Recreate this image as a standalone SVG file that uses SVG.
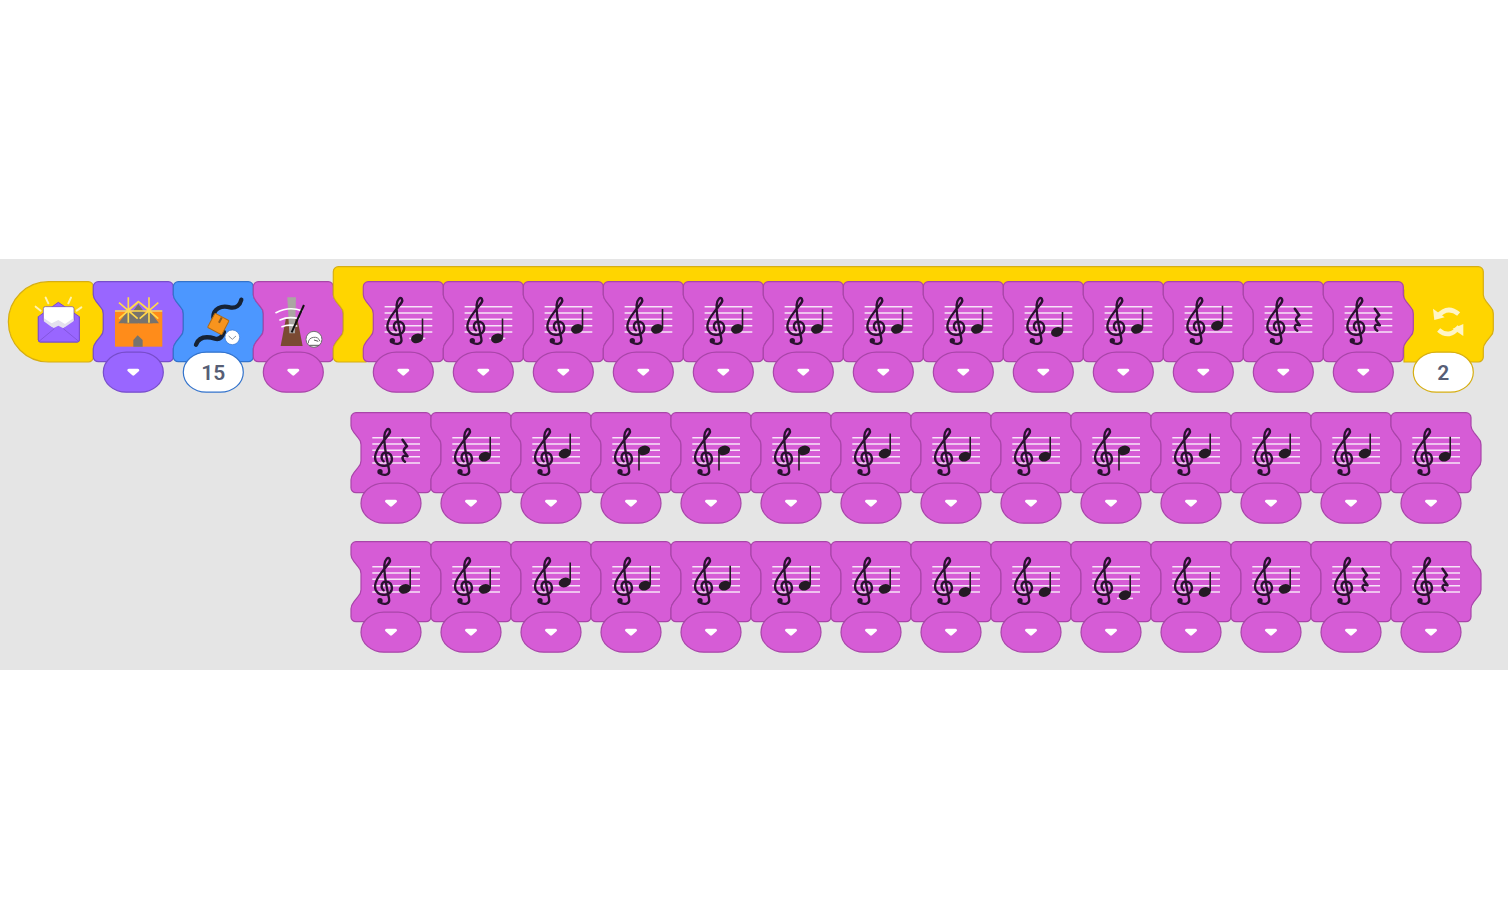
<svg xmlns="http://www.w3.org/2000/svg" width="1508" height="897" viewBox="0 0 1508 897">
<style>
.snd{fill:#D65CD6;stroke:#A945A9;stroke-width:1.2}
.lks{fill:#9966FF;stroke:#774DCB;stroke-width:1.2}
.mot{fill:#4C97FF;stroke:#3373CC;stroke-width:1.2}
.ctl{fill:#FFD500;stroke:#D6AE12;stroke-width:1.2}
.wht{fill:#fff;stroke-width:1.2}
.tri{fill:#fff;stroke:#fff;stroke-width:3;stroke-linejoin:round}
.sl{stroke:#F8E4F8;stroke-width:1.5;fill:none}
.ink{fill:none;stroke:#2A1230;stroke-linecap:round;stroke-linejoin:round}
.num{font-family:Roboto,"Liberation Sans",sans-serif;font-weight:600;font-size:21px;fill:#575E75;text-anchor:middle}
</style>
<defs>
<path id="b" d="M5 0H75a5 5 0 0 1 5 5V13c0 3 1.500 5 3 7l4 5c2 2 3 4 3 7v16c0 3-1 5-3 7l-4 5c-1.500 2-3 4-3 7V75a5 5 0 0 1-5 5H5a5 5 0 0 1-5-5V67c0-3 1.500-5 3-7l4-5c2-2 3-4 3-7V32c0-3-1-5-3-7l-4-5c-1.500-2-3-4-3-7V5a5 5 0 0 1 5-5z"/>
<rect id="p" x="10" y="70.500" width="60" height="40" rx="23" ry="20"/>
<path id="t" class="tri" d="M35.500 88.500H44.500L40 92.500Z"/>
<g id="staff">
<path class="sl" d="M21.300 25H69M21.300 31.330H69M21.300 37.670H69M21.300 44H69M21.300 50.330H69"/>
<g transform="scale(.3333) translate(-10,-20)">
<path class="ink" stroke-width="7" d="M108 166C98 158 100 140 115 140C132 140 138 160 128 172C118 184 92 182 84 164C76 144 96 120 108 104C122 86 130 80 126 72C122 64 112 72 110 90C108 120 120 170 124 190C128 208 108 210 97 202"/>
<circle cx="97" cy="197" r="8" fill="#2A1230"/>
</g>
</g>
<g id="u"><ellipse cx="53.800" rx="6.200" ry="4.700" transform="rotate(-18 53.800 0)" fill="#241A24"/><path d="M59.200 -1V-20" stroke="#241A24" stroke-width="1.600"/></g>
<g id="d"><ellipse cx="53" rx="6.200" ry="4.700" transform="rotate(-18 53 0)" fill="#241A24"/><path d="M48 1V20" stroke="#241A24" stroke-width="1.600"/></g>
<path id="l" class="sl" d="M46 0H62"/>
<path id="r" class="ink" stroke-width="2.500" d="M51.500 27L56 33.500Q52.500 36 52.800 38.500L56.500 43.500Q52 42 51.500 45Q51.500 47.500 54 49"/>
</defs>

<rect x="0" y="259" width="1508" height="411" fill="#E5E5E5"/>
<g id="connectors"/>

<g id="hat">
<path class="ctl" d="M48.500 281.700H88.300a5 5 0 0 1 5 5V294.700c0 3 1.500 5 3 7l4 5c2 2 3 4 3 7v16c0 3-1 5-3 7l-4 5c-1.500 2-3 4-3 7V357a5 5 0 0 1-5 5H48.500A40 40 0 0 1 48.500 281.700z"/>
<g transform="translate(0,260) scale(.3333)">
<path d="M107 140L122 152M137 113L145 130M213 113L205 130M244 142L230 152" stroke="#FFF3B0" stroke-width="6" stroke-linecap="round"/>
<path d="M115 170L175 127L238 170V240a6 6 0 0 1-6 6H121a6 6 0 0 1-6-6z" fill="#9966FF" stroke="#774DCB" stroke-width="3" stroke-linejoin="round"/>
<rect x="130" y="140" width="92" height="60" rx="6" fill="#fff" stroke="#6A45B5" stroke-width="2"/>
<path d="M132 175L155 190L175 180L195 192L220 175V192L176 210L132 192z" fill="#E4E0EE"/>
<path d="M115 172L160 205L175 197L190 205L238 172V240a6 6 0 0 1-6 6H121a6 6 0 0 1-6-6z" fill="#9966FF"/>
<path d="M117 244L163 206M236 244L190 206" stroke="#774DCB" stroke-width="2"/>
<path d="M115 170V240a6 6 0 0 0 6 6H232a6 6 0 0 0 6-6V170" fill="none" stroke="#774DCB" stroke-width="3"/>
</g>
</g>

<g id="looks">
<use href="#b" class="lks" x="93.300" y="281.700"/>
<g transform="translate(0,260) scale(.3333)">
<rect x="345" y="155" width="142" height="105" fill="#FF8C1A"/>
<path d="M372 190L415 132L458 190z" fill="#77736E"/>
<path d="M355 190L385 150L415 190zM417 190L447 150L477 190z" fill="#77736E"/>
<path d="M400 260V240L413 226L428 240V260z" fill="#77736E"/>
<path d="M345 153H487M385 112V188M447 112V188M357 128L413 176M413 128L357 176M419 128L475 176M475 128L419 176M385 150L415 125L447 150" stroke="#FFD94D" stroke-width="5" fill="none"/>
</g>
<use href="#p" class="lks" x="93.300" y="281.700"/>
<use href="#t" x="93.300" y="281.700"/>
</g>

<g id="motion">
<use href="#b" class="mot" x="173.300" y="281.700"/>
<g transform="translate(0,260) scale(.3333)">
<path d="M588 254C598 228 625 230 645 236C660 240 668 228 672 216M640 172C640 145 665 135 690 142C708 146 720 135 724 119" fill="none" stroke="#162235" stroke-width="13" stroke-linecap="round"/>
<g transform="rotate(28 655 192)">
<rect x="631" y="168" width="48" height="48" rx="3" fill="#F7941E" stroke="#B06A14" stroke-width="3"/>
<path d="M655 170V188" stroke="#8A5A20" stroke-width="6"/>
</g>
<circle cx="697" cy="232" r="22" fill="#fff" stroke="#3373CC" stroke-width="2"/>
<path d="M686 228L697 238L708 228" fill="none" stroke="#8A9099" stroke-width="3"/>
</g>
<use href="#p" class="wht" stroke="#3373CC" x="173.300" y="281.700"/>
<text class="num" x="213.300" y="379.500">15</text>
</g>

<g id="tempo">
<use href="#b" class="snd" x="253.300" y="281.700"/>
<g transform="translate(0,260) scale(.3333)">
<path d="M842 258L858 175H892L908 258z" fill="#7A4A32"/>
<path d="M862 112H888L885 220H868z" fill="#ABA6A2"/>
<path d="M828 158Q866 138 906 152M840 180Q866 168 896 176M846 200Q866 192 890 198" fill="none" stroke="#fff" stroke-width="5" stroke-linecap="round"/>
<path d="M875 217L912 135" stroke="#111" stroke-width="6"/>
<circle cx="942" cy="238" r="24" fill="#fff" stroke="#6E6E6E" stroke-width="3"/>
<path d="M925 250A18 18 0 0 1 960 244" fill="none" stroke="#6E6E6E" stroke-width="3"/>
<path d="M942 240L955 244M928 256H958" stroke="#555" stroke-width="3"/>
</g>
<use href="#p" class="snd" x="253.300" y="281.700"/>
<use href="#t" x="253.300" y="281.700"/>
</g>

<g id="repeat">
<path class="ctl" d="M338.300 266.700H1478.300a5 5 0 0 1 5 5V294.700c0 3 1.500 5 3 7l4 5c2 2 3 4 3 7v16c0 3-1 5-3 7l-4 5c-1.500 2-3 4-3 7V357a5 5 0 0 1-5 5H1404V290H366V362H338.300a5 5 0 0 1-5-5V349c0-3 1.500-5 3-7l4-5c2-2 3-4 3-7V313.700c0-3-1-5-3-7l-4-5c-1.500-2-3-4-3-7V271.700a5 5 0 0 1 5-5z"/>
<rect x="363.300" y="295" width="12" height="53" fill="#FFD500"/>
<g transform="translate(1240,260) scale(.3333)" fill="#FFF5C6" stroke="none">
<path d="M592 170Q622 134 656 162" fill="none" stroke="#FFF5C6" stroke-width="14"/>
<path d="M579 146L583 180L614 172z"/>
<path d="M658 200Q628 238 596 210" fill="none" stroke="#FFF5C6" stroke-width="14"/>
<path d="M670 192L670 228L638 206z"/>
</g>
</g>

<g id="r1">
<g id="a0" transform="translate(363.300,281.700)"><use href="#b" class="snd"/><use href="#staff"/><use href="#l" y="56.700"/><use href="#u" y="56.700"/><use href="#p" class="snd"/><use href="#t"/></g>
<g id="a1" transform="translate(443.300,281.700)"><use href="#b" class="snd"/><use href="#staff"/><use href="#l" y="56.700"/><use href="#u" y="56.700"/><use href="#p" class="snd"/><use href="#t"/></g>
<g id="a2" transform="translate(523.300,281.700)"><use href="#b" class="snd"/><use href="#staff"/><use href="#u" y="47.200"/><use href="#p" class="snd"/><use href="#t"/></g>
<g id="a3" transform="translate(603.300,281.700)"><use href="#b" class="snd"/><use href="#staff"/><use href="#u" y="47.200"/><use href="#p" class="snd"/><use href="#t"/></g>
<g id="a4" transform="translate(683.300,281.700)"><use href="#b" class="snd"/><use href="#staff"/><use href="#u" y="47.200"/><use href="#p" class="snd"/><use href="#t"/></g>
<g id="a5" transform="translate(763.300,281.700)"><use href="#b" class="snd"/><use href="#staff"/><use href="#u" y="47.200"/><use href="#p" class="snd"/><use href="#t"/></g>
<g id="a6" transform="translate(843.300,281.700)"><use href="#b" class="snd"/><use href="#staff"/><use href="#u" y="47.200"/><use href="#p" class="snd"/><use href="#t"/></g>
<g id="a7" transform="translate(923.300,281.700)"><use href="#b" class="snd"/><use href="#staff"/><use href="#u" y="47.200"/><use href="#p" class="snd"/><use href="#t"/></g>
<g id="a8" transform="translate(1003.300,281.700)"><use href="#b" class="snd"/><use href="#staff"/><use href="#u" y="50.300"/><use href="#p" class="snd"/><use href="#t"/></g>
<g id="a9" transform="translate(1083.300,281.700)"><use href="#b" class="snd"/><use href="#staff"/><use href="#u" y="47.200"/><use href="#p" class="snd"/><use href="#t"/></g>
<g id="a10" transform="translate(1163.300,281.700)"><use href="#b" class="snd"/><use href="#staff"/><use href="#u" y="44"/><use href="#p" class="snd"/><use href="#t"/></g>
<g id="a11" transform="translate(1243.300,281.700)"><use href="#b" class="snd"/><use href="#staff"/><use href="#r"/><use href="#p" class="snd"/><use href="#t"/></g>
<g id="a12" transform="translate(1323.300,281.700)"><use href="#b" class="snd"/><use href="#staff"/><use href="#r"/><use href="#p" class="snd"/><use href="#t"/></g>
</g>
<g id="repeat-count">
<use href="#p" class="wht" stroke="#D6AE12" x="1403.300" y="281.700"/>
<text class="num" x="1443.300" y="379.500">2</text>
</g>

<g id="r2">
<g id="b0" transform="translate(351,412.700)"><use href="#b" class="snd"/><use href="#staff"/><use href="#r"/><use href="#p" class="snd"/><use href="#t"/></g>
<g id="b1" transform="translate(431,412.700)"><use href="#b" class="snd"/><use href="#staff"/><use href="#u" y="44"/><use href="#p" class="snd"/><use href="#t"/></g>
<g id="b2" transform="translate(511,412.700)"><use href="#b" class="snd"/><use href="#staff"/><use href="#u" y="40.800"/><use href="#p" class="snd"/><use href="#t"/></g>
<g id="b3" transform="translate(591,412.700)"><use href="#b" class="snd"/><use href="#staff"/><use href="#d" y="37.700"/><use href="#p" class="snd"/><use href="#t"/></g>
<g id="b4" transform="translate(671,412.700)"><use href="#b" class="snd"/><use href="#staff"/><use href="#d" y="37.700"/><use href="#p" class="snd"/><use href="#t"/></g>
<g id="b5" transform="translate(751,412.700)"><use href="#b" class="snd"/><use href="#staff"/><use href="#d" y="37.700"/><use href="#p" class="snd"/><use href="#t"/></g>
<g id="b6" transform="translate(831,412.700)"><use href="#b" class="snd"/><use href="#staff"/><use href="#u" y="40.800"/><use href="#p" class="snd"/><use href="#t"/></g>
<g id="b7" transform="translate(911,412.700)"><use href="#b" class="snd"/><use href="#staff"/><use href="#u" y="44"/><use href="#p" class="snd"/><use href="#t"/></g>
<g id="b8" transform="translate(991,412.700)"><use href="#b" class="snd"/><use href="#staff"/><use href="#u" y="44"/><use href="#p" class="snd"/><use href="#t"/></g>
<g id="b9" transform="translate(1071,412.700)"><use href="#b" class="snd"/><use href="#staff"/><use href="#d" y="37.700"/><use href="#p" class="snd"/><use href="#t"/></g>
<g id="b10" transform="translate(1151,412.700)"><use href="#b" class="snd"/><use href="#staff"/><use href="#u" y="40.800"/><use href="#p" class="snd"/><use href="#t"/></g>
<g id="b11" transform="translate(1231,412.700)"><use href="#b" class="snd"/><use href="#staff"/><use href="#u" y="40.800"/><use href="#p" class="snd"/><use href="#t"/></g>
<g id="b12" transform="translate(1311,412.700)"><use href="#b" class="snd"/><use href="#staff"/><use href="#u" y="40.800"/><use href="#p" class="snd"/><use href="#t"/></g>
<g id="b13" transform="translate(1391,412.700)"><use href="#b" class="snd"/><use href="#staff"/><use href="#u" y="44"/><use href="#p" class="snd"/><use href="#t"/></g>
</g>

<g id="r3">
<g id="c0" transform="translate(351,541.700)"><use href="#b" class="snd"/><use href="#staff"/><use href="#u" y="47.200"/><use href="#p" class="snd"/><use href="#t"/></g>
<g id="c1" transform="translate(431,541.700)"><use href="#b" class="snd"/><use href="#staff"/><use href="#u" y="47.200"/><use href="#p" class="snd"/><use href="#t"/></g>
<g id="c2" transform="translate(511,541.700)"><use href="#b" class="snd"/><use href="#staff"/><use href="#u" y="40.800"/><use href="#p" class="snd"/><use href="#t"/></g>
<g id="c3" transform="translate(591,541.700)"><use href="#b" class="snd"/><use href="#staff"/><use href="#u" y="44"/><use href="#p" class="snd"/><use href="#t"/></g>
<g id="c4" transform="translate(671,541.700)"><use href="#b" class="snd"/><use href="#staff"/><use href="#u" y="44"/><use href="#p" class="snd"/><use href="#t"/></g>
<g id="c5" transform="translate(751,541.700)"><use href="#b" class="snd"/><use href="#staff"/><use href="#u" y="44"/><use href="#p" class="snd"/><use href="#t"/></g>
<g id="c6" transform="translate(831,541.700)"><use href="#b" class="snd"/><use href="#staff"/><use href="#u" y="47.200"/><use href="#p" class="snd"/><use href="#t"/></g>
<g id="c7" transform="translate(911,541.700)"><use href="#b" class="snd"/><use href="#staff"/><use href="#u" y="50.300"/><use href="#p" class="snd"/><use href="#t"/></g>
<g id="c8" transform="translate(991,541.700)"><use href="#b" class="snd"/><use href="#staff"/><use href="#u" y="50.300"/><use href="#p" class="snd"/><use href="#t"/></g>
<g id="c9" transform="translate(1071,541.700)"><use href="#b" class="snd"/><use href="#staff"/><use href="#l" y="56.700"/><use href="#u" y="53.500"/><use href="#p" class="snd"/><use href="#t"/></g>
<g id="c10" transform="translate(1151,541.700)"><use href="#b" class="snd"/><use href="#staff"/><use href="#u" y="50.300"/><use href="#p" class="snd"/><use href="#t"/></g>
<g id="c11" transform="translate(1231,541.700)"><use href="#b" class="snd"/><use href="#staff"/><use href="#u" y="47.200"/><use href="#p" class="snd"/><use href="#t"/></g>
<g id="c12" transform="translate(1311,541.700)"><use href="#b" class="snd"/><use href="#staff"/><use href="#r"/><use href="#p" class="snd"/><use href="#t"/></g>
<g id="c13" transform="translate(1391,541.700)"><use href="#b" class="snd"/><use href="#staff"/><use href="#r"/><use href="#p" class="snd"/><use href="#t"/></g>
</g>
</svg>
